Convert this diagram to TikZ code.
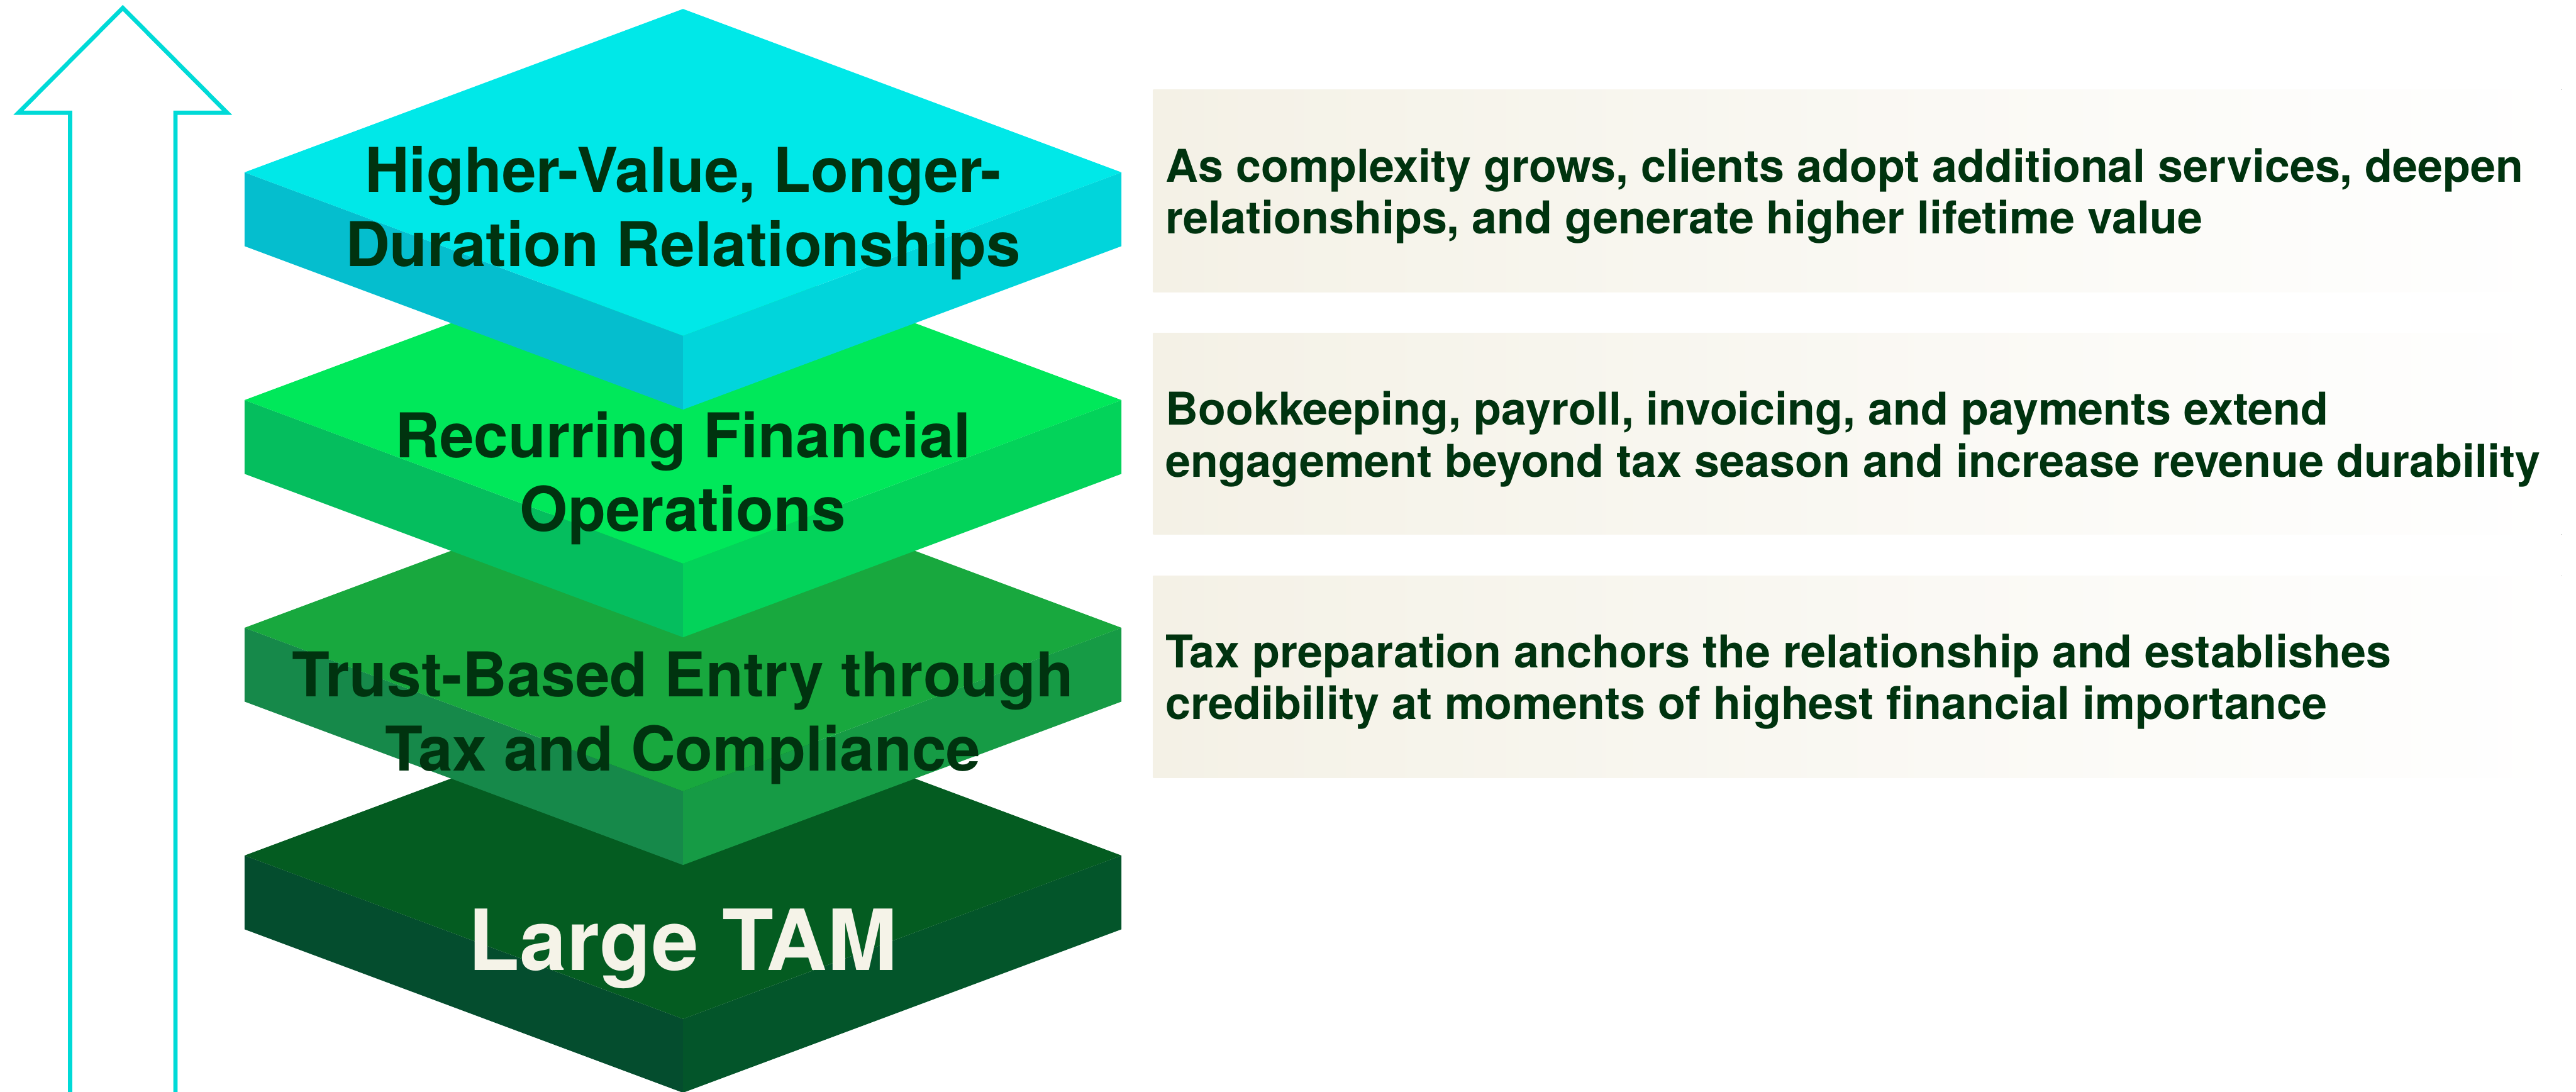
\documentclass[tikz,border=0pt]{standalone}
\usepackage{fontspec}
\setmainfont{TeX Gyre Heros}

\definecolor{arrowcyan}{HTML}{00DAD7}
\definecolor{inkgreen}{HTML}{00330F}
\definecolor{cream}{HTML}{F5F3E8}
\definecolor{boxcream}{HTML}{F4F1E6}
% slab colours: top face, left side, right side
\definecolor{tamtop}{HTML}{045C21}
\definecolor{tamleft}{HTML}{044D2E}
\definecolor{tamright}{HTML}{03552A}
\definecolor{trusttop}{HTML}{18A83E}
\definecolor{trustleft}{HTML}{16894A}
\definecolor{trustright}{HTML}{169B45}
\definecolor{opstop}{HTML}{00E85A}
\definecolor{opsleft}{HTML}{05BE5E}
\definecolor{opsright}{HTML}{03D35A}
\definecolor{valuetop}{HTML}{00E8E8}
\definecolor{valueleft}{HTML}{05BECE}
\definecolor{valueright}{HTML}{01D5DB}

\begin{document}
\begin{tikzpicture}[
	title/.style={font=\bfseries\fontsize{33.3}{39.8}\selectfont, text=inkgreen, align=center, inner sep=0pt},
	note/.style={font=\bfseries\fontsize{24.4}{27.9}\selectfont, text=inkgreen, align=left, inner sep=0pt, anchor=west},
	notebox/.style={left color=boxcream, middle color=boxcream!90!white, right color=white}
]
	\useasboundingbox (0,0) rectangle (48.88,20.71);

	% growth arrow
	\draw[arrowcyan, line width=0.08cm, miter limit=10] (1.33,-0.2) -- (1.33,18.57) -- (0.35,18.57) -- (2.33,20.56) -- (4.31,18.57) -- (3.33,18.57) -- (3.33,-0.2);

	% the four slabs, bottom one first
	\foreach \y/\ctop/\cleft/\cright in {4.48/tamtop/tamleft/tamright, 8.80/trusttop/trustleft/trustright, 13.12/opstop/opsleft/opsright, 17.44/valuetop/valueleft/valueright} {
		\fill[\cleft] (4.64,\y) -- (12.96,\y-3.10) -- (12.96,\y-4.50) -- (4.64,\y-1.40) -- cycle;
		\fill[\cright] (12.96,\y-3.10) -- (21.28,\y) -- (21.28,\y-1.40) -- (12.96,\y-4.50) -- cycle;
		\fill[\ctop] (4.64,\y) -- (12.96,\y+3.10) -- (21.28,\y) -- (12.96,\y-3.10) -- cycle;
	}

	% titles sit on the baseline of their last line
	\node[title, anchor=base] (value) at (12.96,15.66) {Higher-Value, Longer-\\Duration Relationships};
	\node[title, anchor=base] (ops) at (12.96,10.63) {Recurring Financial\\Operations};
	\node[title, anchor=base] (trust) at (12.96,6.09) {Trust-Based Entry through\\Tax and Compliance};
	\node[title, anchor=base, text=cream, font=\bfseries\fontsize{45.5}{50}\selectfont] (tam) at (12.96,2.30) {Large TAM};

	% side notes
	\fill[notebox] (21.88,15.17) rectangle (48.60,19.01);
	\fill[notebox] (21.88,10.57) rectangle (48.60,14.39);
	\fill[notebox] (21.88,5.96) rectangle (48.60,9.79);
	\node[note] (valuenote) at (22.11,16.99) {As complexity grows, clients adopt additional services, deepen\\relationships, and generate higher lifetime value};
	\node[note] (opsnote) at (22.11,12.38) {Bookkeeping, payroll, invoicing, and payments extend\\engagement beyond tax season and increase revenue durability};
	\node[note] (trustnote) at (22.11,7.78) {Tax preparation anchors the relationship and establishes\\credibility at moments of highest financial importance};
\end{tikzpicture}
\end{document}
